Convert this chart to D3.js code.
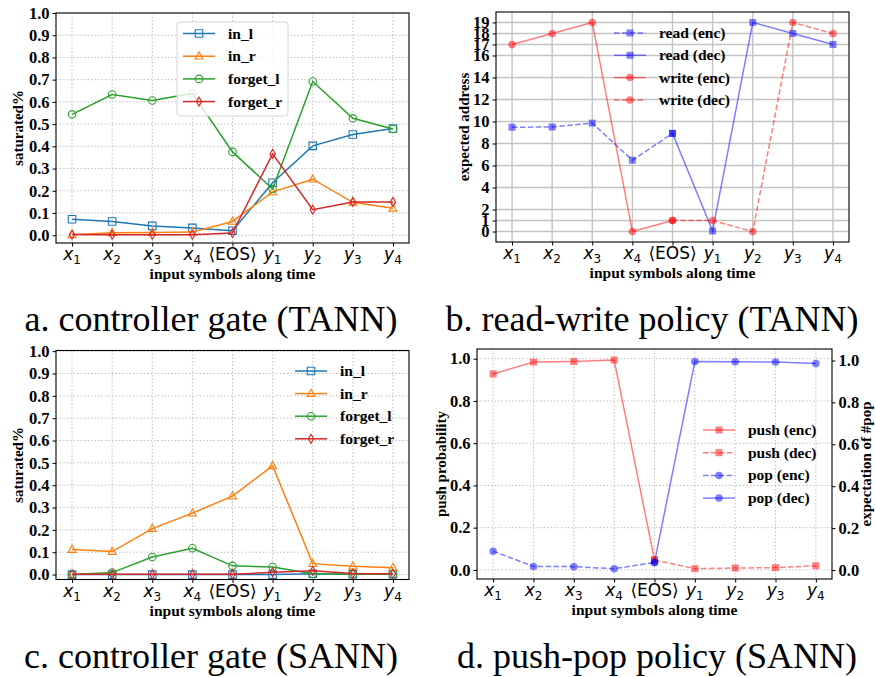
<!DOCTYPE html>
<html><head><meta charset="utf-8">
<script src="https://cdn.jsdelivr.net/npm/d3@7"></script>
<style>body{margin:0;background:#fff}</style>
</head><body>
<svg id="chart" width="875" height="677" xmlns="http://www.w3.org/2000/svg"></svg>
<script>
// ---------- data ----------
const symbols = [["x","1"],["x","2"],["x","3"],["x","4"],["EOS",""],["y","1"],["y","2"],["y","3"],["y","4"]];
const gateTicks = [0,0.1,0.2,0.3,0.4,0.5,0.6,0.7,0.8,0.9,1.0];
const addrTicks = [0,1,2,4,6,8,10,12,14,16,17,18,19];
const probTicks = [0,0.2,0.4,0.6,0.8,1.0];
const gateNames = ["in_l","in_r","forget_l","forget_r"];

// a. controller gate (TANN)
const tannInL     = [0.072,0.062,0.042,0.033,0.020,0.236,0.402,0.453,0.480];
const tannInR     = [0.002,0.011,0.012,0.014,0.062,0.195,0.252,0.148,0.121];
const tannForgetL = [0.544,0.633,0.606,0.638,0.375,0.208,0.692,0.526,0.478];
const tannForgetR = [0.003,0.002,0.002,0.002,0.010,0.366,0.115,0.150,0.150];

// b. read-write policy (TANN)
const readEnc  = [9.48,9.50,9.85,6.48,8.92];      // x1..EOS
const readDec  = [8.92,0.05,19.0,18.0,17.0];      // EOS..y4
const writeEnc = [17.0,18.0,19.0,0.0,1.0];        // x1..EOS
const writeDec = [1.0,1.0,0.0,19.0,18.0];         // EOS..y4

// c. controller gate (SANN)
const sannInL     = [0.000,0.000,0.000,0.000,0.000,0.000,0.004,0.002,0.002];
const sannInR     = [0.112,0.103,0.206,0.275,0.351,0.487,0.049,0.037,0.031];
const sannForgetL = [0.000,0.009,0.079,0.118,0.039,0.034,0.004,0.002,0.002];
const sannForgetR = [0.001,0.001,0.001,0.001,0.001,0.010,0.017,0.005,0.004];

// d. push-pop policy (SANN)
const pushEnc = [0.928,0.984,0.987,0.994,0.047];  // x1..EOS
const pushDec = [0.047,0.006,0.009,0.011,0.020];  // EOS..y4
const popEnc  = [0.090,0.017,0.016,0.006,0.036];  // x1..EOS
const popDec  = [0.036,0.995,0.994,0.993,0.986];  // EOS..y4

const captions = ["a. controller gate (TANN)","b. read-write policy (TANN)","c. controller gate (SANN)","d. push-pop policy (SANN)"];

// ---------- drawing ----------
const svg = d3.select("#chart");
const SERIF = "'Liberation Serif','Times New Roman',serif";
const SANS = "'DejaVu Sans',sans-serif";

function markerPath(shape, size){
  const h = size/2;
  if(shape==="square") return `M${-h},${-h}H${h}V${h}H${-h}Z`;
  if(shape==="triangle") return `M0,${-h*1.15}L${h*1.05},${h*0.75}L${-h*1.05},${h*0.75}Z`;
  if(shape==="diamond") return `M0,${-h*1.2}L${h*0.7},0L0,${h*1.2}L${-h*0.7},0Z`;
  return d3.symbol(d3.symbolCircle, Math.PI*h*h)();
}

function boldSerif(sel, size){
  sel.style("font-family",SERIF).style("font-weight","700").style("font-size",size+"px").attr("fill","#000");
}

function makePanel(cfg){
  const g = svg.append("g");
  const x = d3.scaleLinear().domain([-0.4,8.4]).range([cfg.left,cfg.right]);
  const y = d3.scaleLinear().domain(cfg.yDomain).range([cfg.bottom,cfg.top]);
  // grid
  const grid = g.append("g");
  const gstyle = cfg.solidGrid ? {c:"#c4c4c4",w:1.4,d:null} : {c:"#b8b8b8",w:0.9,d:"1.5,2"};
  grid.selectAll("line.v").data(d3.range(9)).join("line")
    .attr("x1",d=>x(d)).attr("x2",d=>x(d)).attr("y1",cfg.top).attr("y2",cfg.bottom)
    .attr("stroke",gstyle.c).attr("stroke-width",gstyle.w).attr("stroke-dasharray",gstyle.d);
  grid.selectAll("line.h").data(cfg.yTicks).join("line")
    .attr("x1",cfg.left).attr("x2",cfg.right).attr("y1",d=>y(d)).attr("y2",d=>y(d))
    .attr("stroke",gstyle.c).attr("stroke-width",gstyle.w).attr("stroke-dasharray",gstyle.d);
  // axes
  const ya = g.append("g").attr("transform",`translate(${cfg.left},0)`)
    .call(d3.axisLeft(y).tickValues(cfg.yTicks).tickFormat(cfg.yFmt).tickSize(3.5).tickPadding(3));
  ya.select(".domain").remove();
  boldSerif(ya.selectAll("text"), 16.5);
  const xa = g.append("g").attr("transform",`translate(0,${cfg.bottom})`)
    .call(d3.axisBottom(x).tickValues(d3.range(9)).tickFormat(()=>"").tickSize(3.5));
  xa.select(".domain").remove();
  xa.selectAll(".tick text").remove();
  const lab = g.append("g");
  symbols.forEach((s,i)=>{
    const t = lab.append("text").attr("x",x(i)).attr("y",cfg.bottom+17)
      .attr("text-anchor","middle").style("font-family",SANS).style("font-size","17px");
    if(s[1]===""){
      t.text("\u27E8EOS\u27E9");
    } else {
      t.append("tspan").style("font-style","italic").text(s[0]);
      t.append("tspan").style("font-size","12px").attr("dy",4).text(s[1]);
    }
  });
  boldSerif(g.append("text").attr("x",(cfg.left+cfg.right)/2).attr("y",cfg.bottom+36)
    .attr("text-anchor","middle").text("input symbols along time"), 15.5);
  boldSerif(g.append("text").attr("transform",`translate(${cfg.ylabelX},${(cfg.top+cfg.bottom)/2}) rotate(-90)`)
    .attr("text-anchor","middle").text(cfg.ylabel), 15);
  return {g,x,y};
}

function drawSeries(p, ys, start, color, shape, opts){
  const o = Object.assign({dash:null, fill:"none", size:7.5, opacity:1, yScale:p.y}, opts||{});
  const pts = ys.map((v,i)=>[p.x(start+i), o.yScale(v)]);
  p.g.append("path").attr("d",d3.line()(pts)).attr("fill","none")
    .attr("stroke",color).attr("stroke-width",1.5).attr("stroke-dasharray",o.dash)
    .attr("stroke-opacity",o.opacity);
  p.g.append("g").selectAll("path").data(pts).join("path")
    .attr("transform",d=>`translate(${d[0]},${d[1]})`)
    .attr("d",markerPath(shape,o.size))
    .attr("fill",o.fill==="none"?"none":o.fill).attr("fill-opacity",o.opacity)
    .attr("stroke",color).attr("stroke-width",o.fill==="none"?1.1:0).attr("stroke-opacity",o.opacity);
}

function legend(p, items, lx, ly, step, frame){
  const lg = p.g.append("g");
  if(frame){
    lg.append("rect").attr("x",frame[0]).attr("y",frame[1]).attr("width",frame[2]).attr("height",frame[3])
      .attr("rx",3).attr("fill","#fff").attr("fill-opacity",0.8).attr("stroke","#d6d6d6").attr("stroke-width",1);
  }
  items.forEach((it,i)=>{
    const yy = ly + i*step;
    lg.append("line").attr("x1",lx).attr("x2",lx+32).attr("y1",yy).attr("y2",yy)
      .attr("stroke",it.color).attr("stroke-width",1.5).attr("stroke-dasharray",it.dash||null)
      .attr("stroke-opacity",it.opacity||1);
    lg.append("path").attr("transform",`translate(${lx+16},${yy})`).attr("d",markerPath(it.shape,it.size||7.5))
      .attr("fill",it.fill||"none").attr("fill-opacity",it.opacity||1)
      .attr("stroke",it.color).attr("stroke-width",it.fill?0:1.1).attr("stroke-opacity",it.opacity||1);
    boldSerif(lg.append("text").attr("x",lx+45).attr("y",yy+5).text(it.label), 15.5);
  });
}

function spine(cfg){
  svg.append("rect").attr("x",cfg.left).attr("y",cfg.top).attr("width",cfg.right-cfg.left)
    .attr("height",cfg.bottom-cfg.top).attr("fill","none").attr("stroke","#000").attr("stroke-width",1.1);
}

const tab = ["#1f77b4","#ff7f0e","#2ca02c","#d62728"];
const shapes = ["square","triangle","circle","diamond"];
const f1 = d3.format(".1f");

// panel a
const cA = {left:56,right:409,top:13,bottom:243,yDomain:[-0.035,1.0],yTicks:gateTicks,yFmt:f1,ylabel:"saturated%",ylabelX:23};
const pA = makePanel(cA);
[tannInL,tannInR,tannForgetL,tannForgetR].forEach((s,i)=>drawSeries(pA,s,0,tab[i],shapes[i]));
legend(pA, gateNames.map((n,i)=>({label:n,color:tab[i],shape:shapes[i]})), 183, 33.5, 22.7, [177,22,111,94]);
spine(cA);

// panel b
const cB = {left:496,right:849,top:12,bottom:242,yDomain:[-0.95,19.95],yTicks:addrTicks,yFmt:d3.format("d"),ylabel:"expected address",ylabelX:469,solidGrid:true};
const pB = makePanel(cB);
const BL="#0000ff", RD="#ff0000";
drawSeries(pB, readEnc, 0, BL, "square", {dash:"5.5,2.4",fill:BL,opacity:0.5,size:7});
drawSeries(pB, readDec, 4, BL, "square", {fill:BL,opacity:0.5,size:7});
drawSeries(pB, writeEnc, 0, RD, "circle", {fill:RD,opacity:0.5,size:7.5});
drawSeries(pB, writeDec, 4, RD, "circle", {dash:"5.5,2.4",fill:RD,opacity:0.5,size:7.5});
legend(pB, [
  {label:"read (enc)",color:BL,shape:"square",dash:"5.5,2.4",fill:BL,opacity:0.5,size:7},
  {label:"read (dec)",color:BL,shape:"square",fill:BL,opacity:0.5,size:7},
  {label:"write (enc)",color:RD,shape:"circle",fill:RD,opacity:0.5},
  {label:"write (dec)",color:RD,shape:"circle",dash:"5.5,2.4",fill:RD,opacity:0.5}
], 614, 33, 22.3, null);
spine(cB);

// panel c
const cC = {left:56,right:409,top:350.5,bottom:579.5,yDomain:[-0.022,1.003],yTicks:gateTicks,yFmt:f1,ylabel:"saturated%",ylabelX:23};
const pC = makePanel(cC);
[sannInL,sannInR,sannForgetL,sannForgetR].forEach((s,i)=>drawSeries(pC,s,0,tab[i],shapes[i]));
legend(pC, gateNames.map((n,i)=>({label:n,color:tab[i],shape:shapes[i]})), 295, 371, 22.6, null);
spine(cC);

// panel d
const cD = {left:477,right:832,top:349,bottom:579,yDomain:[-0.043,1.046],yTicks:probTicks,yFmt:f1,ylabel:"push probability",ylabelX:446};
const pD = makePanel(cD);
const yR = d3.scaleLinear().domain([0,1]).range([570,360.5]);
const ra = pD.g.append("g").attr("transform",`translate(${cD.right},0)`)
  .call(d3.axisRight(yR).tickValues(probTicks).tickFormat(f1).tickSize(3.5).tickPadding(3));
ra.select(".domain").remove();
boldSerif(ra.selectAll("text"), 16.5);
boldSerif(pD.g.append("text").attr("transform",`translate(871,${(cD.top+cD.bottom)/2}) rotate(-90)`)
  .attr("text-anchor","middle").text("expectation of #pop"), 15);
drawSeries(pD, pushEnc, 0, RD, "square", {fill:RD,opacity:0.5,size:7});
drawSeries(pD, pushDec, 4, RD, "square", {dash:"5.5,2.4",fill:RD,opacity:0.5,size:7});
drawSeries(pD, popEnc, 0, BL, "circle", {dash:"5.5,2.4",fill:BL,opacity:0.5,size:7.5,yScale:yR});
drawSeries(pD, popDec, 4, BL, "circle", {fill:BL,opacity:0.5,size:7.5,yScale:yR});
legend(pD, [
  {label:"push (enc)",color:RD,shape:"square",fill:RD,opacity:0.5,size:7},
  {label:"push (dec)",color:RD,shape:"square",dash:"5.5,2.4",fill:RD,opacity:0.5,size:7},
  {label:"pop (enc)",color:BL,shape:"circle",dash:"5.5,2.4",fill:BL,opacity:0.5},
  {label:"pop (dec)",color:BL,shape:"circle",fill:BL,opacity:0.5}
], 703, 430, 22.7, null);
spine(cD);

// captions
const capPos = [[211,331],[652,331],[211,668],[657,668]];
captions.forEach((c,i)=>{
  svg.append("text").attr("x",capPos[i][0]).attr("y",capPos[i][1]).attr("text-anchor","middle")
    .style("font-family",SERIF).style("font-size","36px").text(c);
});
</script>
</body></html>
